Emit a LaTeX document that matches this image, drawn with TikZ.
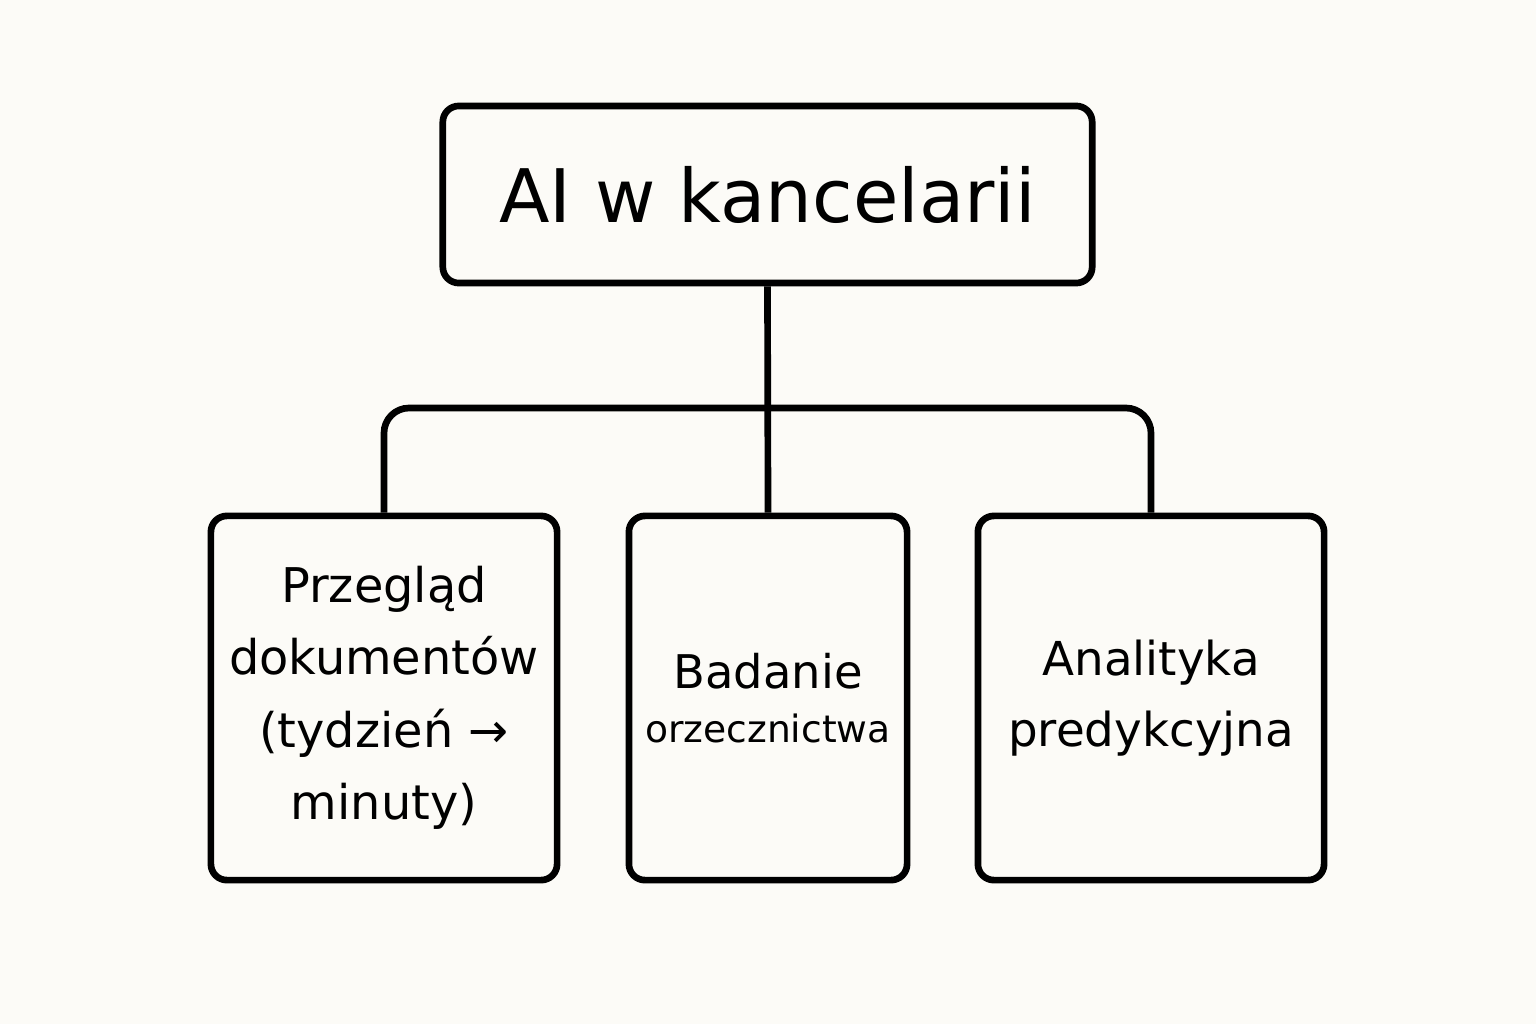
\documentclass[tikz,border=0pt]{standalone}
\usepackage{fontspec}
\setmainfont{DejaVu Sans}
\definecolor{paper}{HTML}{FCFBF7}
\begin{document}
\begin{tikzpicture}[x=0.01cm,y=-0.01cm,
        box/.style={draw,line width=1.9pt,rounded corners=0.16cm,
            align=center,inner sep=0pt},
        link/.style={line width=1.9pt}]
        \fill[paper] (0,0) rectangle (1536,1024);

        \node[box,minimum width=6.49cm,minimum height=1.77cm,
            font=\fontsize{21}{25}\selectfont] (root) at (767.5,194.5)
            {AI w kancelarii};

        \node[box,minimum width=3.46cm,minimum height=3.64cm,
            font=\fontsize{13.6}{20.6}\selectfont] (review) at (384,698)
            {Przegląd\\dokumentów\\(tydzień →\\minuty)};
        \node[box,minimum width=2.78cm,minimum height=3.64cm,
            font=\fontsize{13.2}{15.4}\selectfont] (caselaw) at (768,698)
            {Badanie\\{\fontsize{10.7}{15.4}\selectfont orzecznictwa}};
        \node[box,minimum width=3.46cm,minimum height=3.64cm,
            font=\fontsize{13.3}{20}\selectfont] (predict) at (1151,698)
            {Analityka\\predykcyjna};

        \coordinate (bar) at (767,408);
        \draw[link] (root.south) -- (caselaw.north);
        \draw[link,rounded corners=0.25cm] (review.north) |- (bar)
            -| (predict.north);
    \end{tikzpicture}
\end{document}
